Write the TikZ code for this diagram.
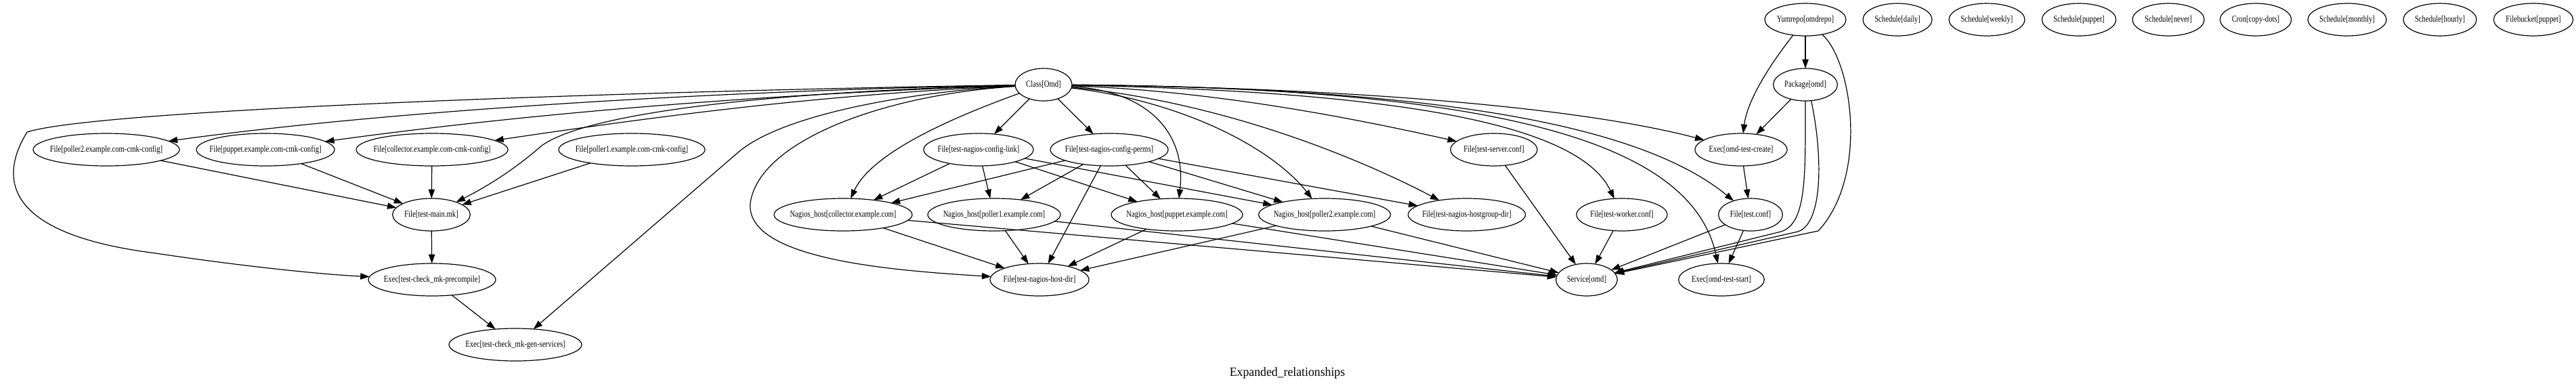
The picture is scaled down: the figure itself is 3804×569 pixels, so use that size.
\documentclass[tikz,border=0pt]{standalone}
\usepackage{fontspec}
\setmainfont{Liberation Serif}
\newfontfamily\gvfont[FakeStretch=0.8]{Liberation Serif}
\newfontfamily\gvtitle[FakeStretch=0.95]{Liberation Serif}
\usetikzlibrary{shapes.geometric,arrows.meta}
\newcommand\nlbl[1]{\makebox[0pt][c]{#1}}
\begin{document}
\begin{tikzpicture}[x=0.75pt,y=-0.75pt,
  nd/.style={draw, ellipse, line width=0.9pt, inner sep=0pt, outer sep=0pt,
    minimum height=36pt, font=\gvfont\fontsize{10}{12}\selectfont},
  ed/.style={line width=0.9pt, -{Triangle[length=10pt,width=7pt]}}]
\useasboundingbox (0,0) rectangle (3804,569);
% row 0
\node[nd,minimum width=90pt]   (Y)  at (2666,29) {\nlbl{Yumrepo[omdrepo]}};
\node[nd,minimum width=76.5pt] (SD) at (2802,29) {\nlbl{Schedule[daily]}};
\node[nd,minimum width=84pt]   (SW) at (2934,29) {\nlbl{Schedule[weekly]}};
\node[nd,minimum width=82pt]   (SP) at (3070,29) {\nlbl{Schedule[puppet]}};
\node[nd,minimum width=79.5pt] (SN) at (3202,29) {\nlbl{Schedule[never]}};
\node[nd,minimum width=79pt]   (CR) at (3331,29) {\nlbl{Cron[copy-dots]}};
\node[nd,minimum width=87pt]   (SM) at (3466,29) {\nlbl{Schedule[monthly]}};
\node[nd,minimum width=81pt]   (SH) at (3603,29) {\nlbl{Schedule[hourly]}};
\node[nd,minimum width=88pt]   (FB) at (3741,29) {\nlbl{Filebucket[puppet]}};
% row 1
\node[nd,minimum width=63pt] (C) at (1541,125) {\nlbl{Class[Omd]}};
\node[nd,minimum width=71pt] (K) at (2666,125) {\nlbl{Package[omd]}};
% row 2
\node[nd,minimum width=162pt]   (F2) at (157,221) {\nlbl{File[poller2.example.com-cmk-config]}};
\node[nd,minimum width=153pt]   (FU) at (392,221) {\nlbl{File[puppet.example.com-cmk-config]}};
\node[nd,minimum width=168pt]   (FC) at (638,221) {\nlbl{File[collector.example.com-cmk-config]}};
\node[nd,minimum width=162pt]   (F1) at (933,221) {\nlbl{File[poller1.example.com-cmk-config]}};
\node[nd,minimum width=121.5pt] (L)  at (1445,221) {\nlbl{File[test-nagios-config-link]}};
\node[nd,minimum width=130.5pt] (P)  at (1638,221) {\nlbl{File[test-nagios-config-perms]}};
\node[nd,minimum width=96pt]    (TS) at (2206,221) {\nlbl{File[test-server.conf]}};
\node[nd,minimum width=102pt]   (E)  at (2571,221) {\nlbl{Exec[omd-test-create]}};
% row 3
\node[nd,minimum width=86pt]    (M)  at (637,317) {\nlbl{File[test-main.mk]}};
\node[nd,minimum width=153pt]   (NC) at (1245,317) {\nlbl{Nagios\_host[collector.example.com]}};
\node[nd,minimum width=147pt]   (N1) at (1468,317) {\nlbl{Nagios\_host[poller1.example.com]}};
\node[nd,minimum width=145.5pt] (NU) at (1738,317) {\nlbl{Nagios\_host[puppet.example.com]}};
\node[nd,minimum width=146pt]   (N2) at (1956,317) {\nlbl{Nagios\_host[poller2.example.com]}};
\node[nd,minimum width=130pt]   (HG) at (2166,317) {\nlbl{File[test-nagios-hostgroup-dir]}};
\node[nd,minimum width=100.5pt] (TW) at (2395,317) {\nlbl{File[test-worker.conf]}};
\node[nd,minimum width=71pt]    (T)  at (2585,317) {\nlbl{File[test.conf]}};
% row 4
\node[nd,minimum width=141pt]   (PC) at (638,413) {\nlbl{Exec[test-check\_mk-precompile]}};
\node[nd,minimum width=109.5pt] (HD) at (1535,413) {\nlbl{File[test-nagios-host-dir]}};
\node[nd,minimum width=68pt]    (S)  at (2343,413) {\nlbl{Service[omd]}};
\node[nd,minimum width=95pt]    (ST) at (2542,413) {\nlbl{Exec[omd-test-start]}};
% row 5
\node[nd,minimum width=147pt]   (GS) at (761,509) {\nlbl{Exec[test-check\_mk-gen-services]}};
% title
\node[anchor=base, inner sep=0pt, font=\gvtitle\fontsize{14}{16}\selectfont] (title) at (1901,555) {Expanded\_relationships};

% edges from Class[Omd], leftwards
\draw[ed] (C) .. controls (1100,133) and (600,160) .. (F2);
\draw[ed] (C) .. controls (1150,138) and (800,165) .. (FU);
\draw[ed] (C) .. controls (1200,140) and (950,175) .. (FC);
\draw[ed] (C) .. controls (1150,135) and (870,165) .. (800,215) .. controls (760,250) and (720,275) .. (M);
\draw[ed] (C) .. controls (1000,133) and (150,160) .. (40,195) .. controls (0,260) and (0,345) .. (230,374) .. controls (350,392) and (470,405) .. (PC);
\draw[ed] (C) .. controls (1350,135) and (1156,168) .. (1090,225) -- (GS);
\draw[ed] (C) .. controls (1430,165) and (1290,220) .. (NC);
\draw[ed] (C) .. controls (1300,140) and (1120,210) .. (1108,300) .. controls (1100,385) and (1330,400) .. (HD);
% down
\draw[ed] (C) -- (L);
\draw[ed] (C) -- (P);
% rightwards
\draw[ed] (C) .. controls (1700,135) and (1752,200) .. (NU);
\draw[ed] (C) .. controls (1750,150) and (1880,220) .. (N2);
\draw[ed] (C) .. controls (1800,150) and (2000,230) .. (HG);
\draw[ed] (C) .. controls (1800,135) and (2000,175) .. (TS);
\draw[ed] (C) .. controls (2050,135) and (2330,180) .. (TW);
\draw[ed] (C) .. controls (1900,128) and (2300,150) .. (E);
\draw[ed] (C) .. controls (2250,130) and (2500,220) .. (ST);
\draw[ed] (C) .. controls (2150,130) and (2430,190) .. (T);

% config files to main.mk
\draw[ed] (F2) -- (M);
\draw[ed] (FU) -- (M);
\draw[ed] (FC) -- (M);
\draw[ed] (F1) -- (M);
\draw[ed] (M) -- (PC);
\draw[ed] (PC) -- (GS);

% nagios config link / perms
\draw[ed] (L) -- (NC);
\draw[ed] (L) -- (N1);
\draw[ed] (L) -- (NU);
\draw[ed] (L) -- (N2);
\draw[ed] (P) -- (NC);
\draw[ed] (P) -- (N1);
\draw[ed] (P) -- (HD);
\draw[ed] (P) -- (NU);
\draw[ed] (P) -- (N2);
\draw[ed] (P) -- (HG);

% nagios hosts
\draw[ed] (NC) -- (HD);
\draw[ed] (N1) -- (HD);
\draw[ed] (NU) -- (HD);
\draw[ed] (N2) -- (HD);
\draw[ed] (NC) -- (S);
\draw[ed] (N1) -- (S);
\draw[ed] (NU) -- (S);
\draw[ed] (N2) -- (S);

% service side
\draw[ed] (TS) -- (S);
\draw[ed] (TW) -- (S);
\draw[ed] (T) -- (S);
\draw[ed] (T) -- (ST);
\draw[ed] (E) -- (T);
\draw[ed] (Y) -- (K);
\draw[ed] (K) -- (E);
\draw[ed] (Y) .. controls (2610,100) and (2580,150) .. (E);
\draw[ed] (Y) .. controls (2735,90) and (2760,260) .. (2685,341) -- (S);
\draw[ed] (K.south) .. controls (2666,260) and (2668,330) .. (2630,342) -- (S);
\draw[ed] (K.-70) .. controls (2692,230) and (2692,330) .. (2655,342) -- (S);
\end{tikzpicture}
\end{document}
